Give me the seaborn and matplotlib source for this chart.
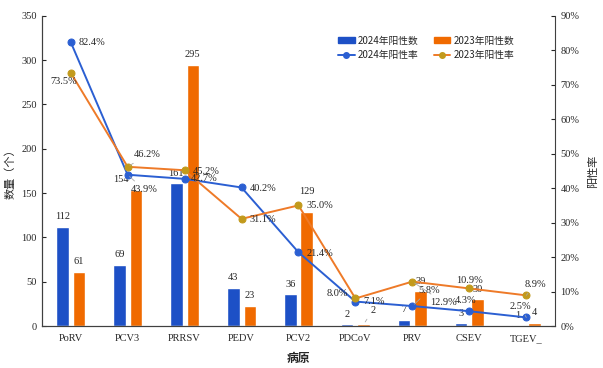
import numpy as np
import pandas as pd
import seaborn as sns
import matplotlib.pyplot as plt
from matplotlib.patches import Patch
from matplotlib.lines import Line2D

# data
pathogens = ['PoRV', 'PCV3', 'PRRSV', 'PEDV', 'PCV2', 'PDCoV', 'PRV', 'CSEV', 'TGEV_']
count_2024 = [112, 69, 161, 43, 36, 2, 7, 3, 1]
count_2023 = [61, 154, 295, 23, 129, 2, 39, 30, 4]
rate_2024 = [82.4, 43.9, 42.7, 40.2, 21.4, 7.1, 5.8, 4.3, 2.5]
rate_2023 = [73.5, 46.2, 45.2, 31.1, 35.0, 8.0, 12.9, 10.9, 8.9]
series = ['2024年阳性数', '2023年阳性数']

blue_bar = '#1D50C6'
orange_bar = '#F06A00'
blue_line = '#2B5FD2'
orange_line = '#EE7A28'
orange_mark = '#C29A1C'

sns.set_style('white')
plt.rcParams['font.family'] = ['Liberation Serif', 'Noto Sans CJK SC']
cjk = ['Noto Sans CJK SC', 'DejaVu Sans']

counts = pd.DataFrame({
    'pathogen': pathogens * 2,
    'count': count_2024 + count_2023,
    'year': [series[0]] * len(pathogens) + [series[1]] * len(pathogens),
})

fig = plt.figure(figsize=(6.03, 3.68), dpi=100)
ax = fig.add_axes([0.070, 0.114, 0.850, 0.843])

sns.barplot(data=counts, x='pathogen', y='count', hue='year', order=pathogens,
            hue_order=series, palette=[blue_bar, orange_bar], width=0.58, gap=0.24,
            saturation=1, legend=False, ax=ax)
ax.set_xlim(-0.5, len(pathogens) - 0.5)
ax.set_ylim(0, 350)
ax.set_yticks(range(0, 351, 50))
ax.set_xlabel('病原', family=cjk, fontsize=8.5, fontweight='bold', labelpad=6)
ax.set_ylabel('数量（个）', family=cjk, fontsize=8, labelpad=4)
ax.tick_params(axis='y', direction='in', length=3, labelsize=7.5, pad=4)
ax.tick_params(axis='x', length=0, labelsize=7.5, pad=6)
ax.set_xticks(np.arange(len(pathogens) - 1) + 0.5, minor=True)
ax.tick_params(axis='x', which='minor', direction='in', length=3, color='#404040')

ax2 = ax.twinx()
x_pos = np.arange(len(pathogens))
sns.lineplot(x=x_pos, y=rate_2024, color=blue_line, lw=1.4, marker='o', markersize=5,
             markerfacecolor=blue_line, markeredgecolor=blue_line, ax=ax2)
sns.lineplot(x=x_pos, y=rate_2023, color=orange_line, lw=1.4, marker='o', markersize=5,
             markerfacecolor=orange_mark, markeredgecolor=orange_mark, ax=ax2)
ax2.set_ylim(0, 90)
ax2.set_yticks(range(0, 91, 10))
ax2.set_yticklabels([f'{v}%' for v in range(0, 91, 10)])
ax2.set_ylabel('阳性率', family=cjk, fontsize=8, rotation=90, labelpad=6)
ax2.tick_params(axis='y', direction='in', length=3, labelsize=7.5, pad=4)

for a in (ax, ax2):
    a.spines['top'].set_visible(False)
    for s in ('left', 'right', 'bottom'):
        a.spines[s].set_color('#404040')
        a.spines[s].set_linewidth(0.8)
ax.spines['right'].set_visible(False)

leader = dict(arrowstyle='-', color='#a8a8a8', lw=0.6, shrinkA=1, shrinkB=2)

# count labels above bars
count_off = {(1, 1): (-15, 10), (1, 4): (0, 20), (1, 5): (9, 14)}
count_lead = {(1, 1), (1, 5)}
for k, cont in enumerate(ax.containers):
    for i, bar in enumerate(cont):
        dx, dy = count_off.get((k, i), (0, 10))
        ax.annotate(f'{int(bar.get_height())}',
                    (bar.get_x() + bar.get_width() / 2, bar.get_height()),
                    xytext=(dx, dy), textcoords='offset pixels', ha='center', va='center',
                    fontsize=7.5, arrowprops=leader if (k, i) in count_lead else None)

# rate labels
off_2024 = [(8, 0, 'left'), (3, -15, 'left'), (6, 0, 'left'), (8, -1, 'left'), (8, -1, 'left'),
            (8, 0, 'left'), (6, 16, 'left'), (-4, 11, 'center'), (-6, 11, 'center')]
off_2023 = [(-7, -9, 'center'), (6, 12, 'left'), (8, -1, 'left'), (8, -1, 'left'), (8, 0, 'left'),
            (-7, 5, 'right'), (18, -21, 'left'), (0, 8, 'center'), (9, 11, 'center')]
lead_2024 = {1, 6, 8}
lead_2023 = {1, 6, 8}
for i in range(len(pathogens)):
    dx, dy, ha = off_2024[i]
    ax2.annotate(f'{rate_2024[i]:.1f}%', (i, rate_2024[i]), xytext=(dx, dy),
                 textcoords='offset pixels', ha=ha, va='center', fontsize=7.5,
                 arrowprops=leader if i in lead_2024 else None)
    dx, dy, ha = off_2023[i]
    ax2.annotate(f'{rate_2023[i]:.1f}%', (i, rate_2023[i]), xytext=(dx, dy),
                 textcoords='offset pixels', ha=ha, va='center', fontsize=7.5,
                 arrowprops=leader if i in lead_2023 else None)

handles = [
    Patch(color=blue_bar),
    Line2D([], [], color=blue_line, lw=1.4, marker='o', markersize=4),
    Patch(color=orange_bar),
    Line2D([], [], color=orange_line, lw=1.4, marker='o', markersize=4,
           markerfacecolor=orange_mark, markeredgecolor=orange_mark),
]
labels = ['2024年阳性数', '2024年阳性率', '2023年阳性数', '2023年阳性率']
ax2.legend(handles, labels, loc='upper left', bbox_to_anchor=(0.56, 0.965), ncol=2,
           frameon=False, prop={'family': cjk, 'size': 7}, handlelength=1.7,
           handleheight=0.6, columnspacing=1.6, labelspacing=0.45, handletextpad=0.3)

fig.savefig('out.png', dpi=100)
